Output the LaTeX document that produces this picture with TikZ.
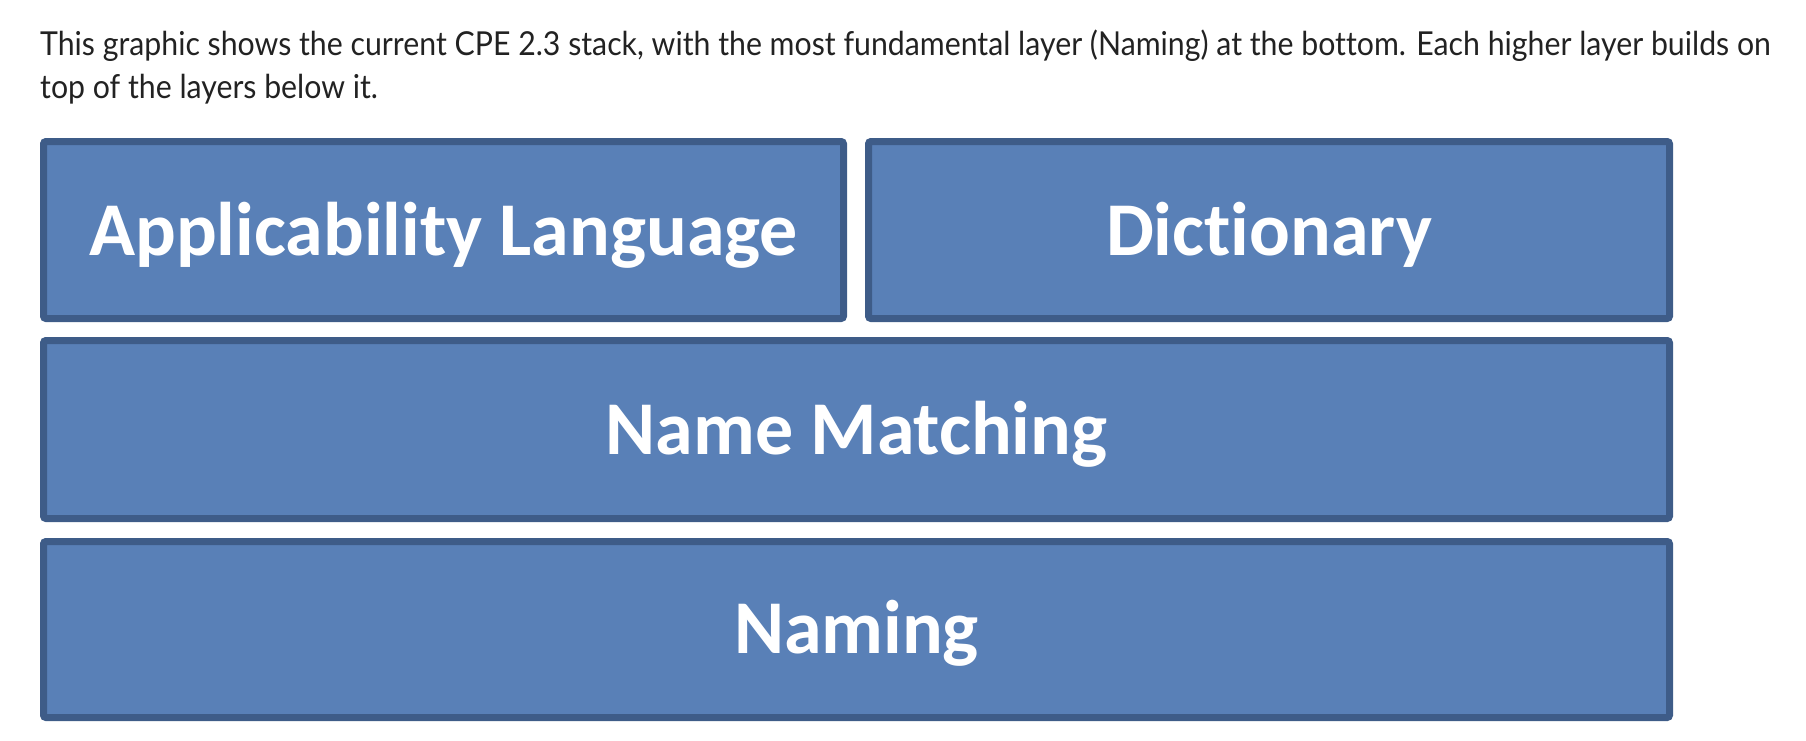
\documentclass[tikz,border=0pt]{standalone}
\usepackage{fontspec}
\setmainfont{Lato}
\newfontfamily\bodyfont[FakeStretch=0.917,Ligatures=NoCommon]{Lato}
\newfontfamily\boxfont[Ligatures=NoCommon]{Carlito}
\definecolor{layerfill}{RGB}{89,128,183}
\definecolor{layerline}{RGB}{62,92,136}
\definecolor{bodytext}{RGB}{34,34,34}
\tikzset{
  layer/.style={draw=layerline, fill=layerfill, line width=7pt, rounded corners=2.5pt,
    inner sep=0pt, outer sep=0pt},
  layerlabel/.style={text=white, inner sep=0pt, anchor=base,
    font=\boxfont\bfseries\fontsize{76}{80}\selectfont},
  bodyline/.style={text=bodytext, inner sep=0pt, anchor=base west,
    font=\bodyfont\fontsize{33}{40}\selectfont}
}
\begin{document}
\begin{tikzpicture}[x=1pt,y=-1pt]
\useasboundingbox (0,0) rectangle (1806,740);
\node[bodyline] (line1) at (40,55) {This graphic shows the current CPE 2.3 stack, with the most fundamental layer (Naming) at the bottom. Each higher layer builds on};
\node[bodyline] (line2) at (40,98) {top of the layers below it.};
% boxes (outer extents: TL 40-847 x 138-322, TR 865-1673, mid 337-522, bottom 538-721)
\node[layer, minimum width=800pt, minimum height=177pt] (appl) at (443.5,230) {};
\node[layer, minimum width=801pt, minimum height=177pt] (dict) at (1269,230) {};
\node[layer, minimum width=1626pt, minimum height=178pt] (match) at (856.5,429.5) {};
\node[layer, minimum width=1626pt, minimum height=176pt] (naming) at (856.5,629.5) {};
\node[layerlabel] (applt) at ([yshift=-25pt]appl.center) {Applicability Language};
\node[layerlabel] (dictt) at ([yshift=-25pt]dict.center) {Dictionary};
\node[layerlabel] (matcht) at ([yshift=-25pt]match.center) {Name Matching};
\node[layerlabel] (namingt) at ([yshift=-24pt]naming.center) {Naming};
\end{tikzpicture}
\end{document}
